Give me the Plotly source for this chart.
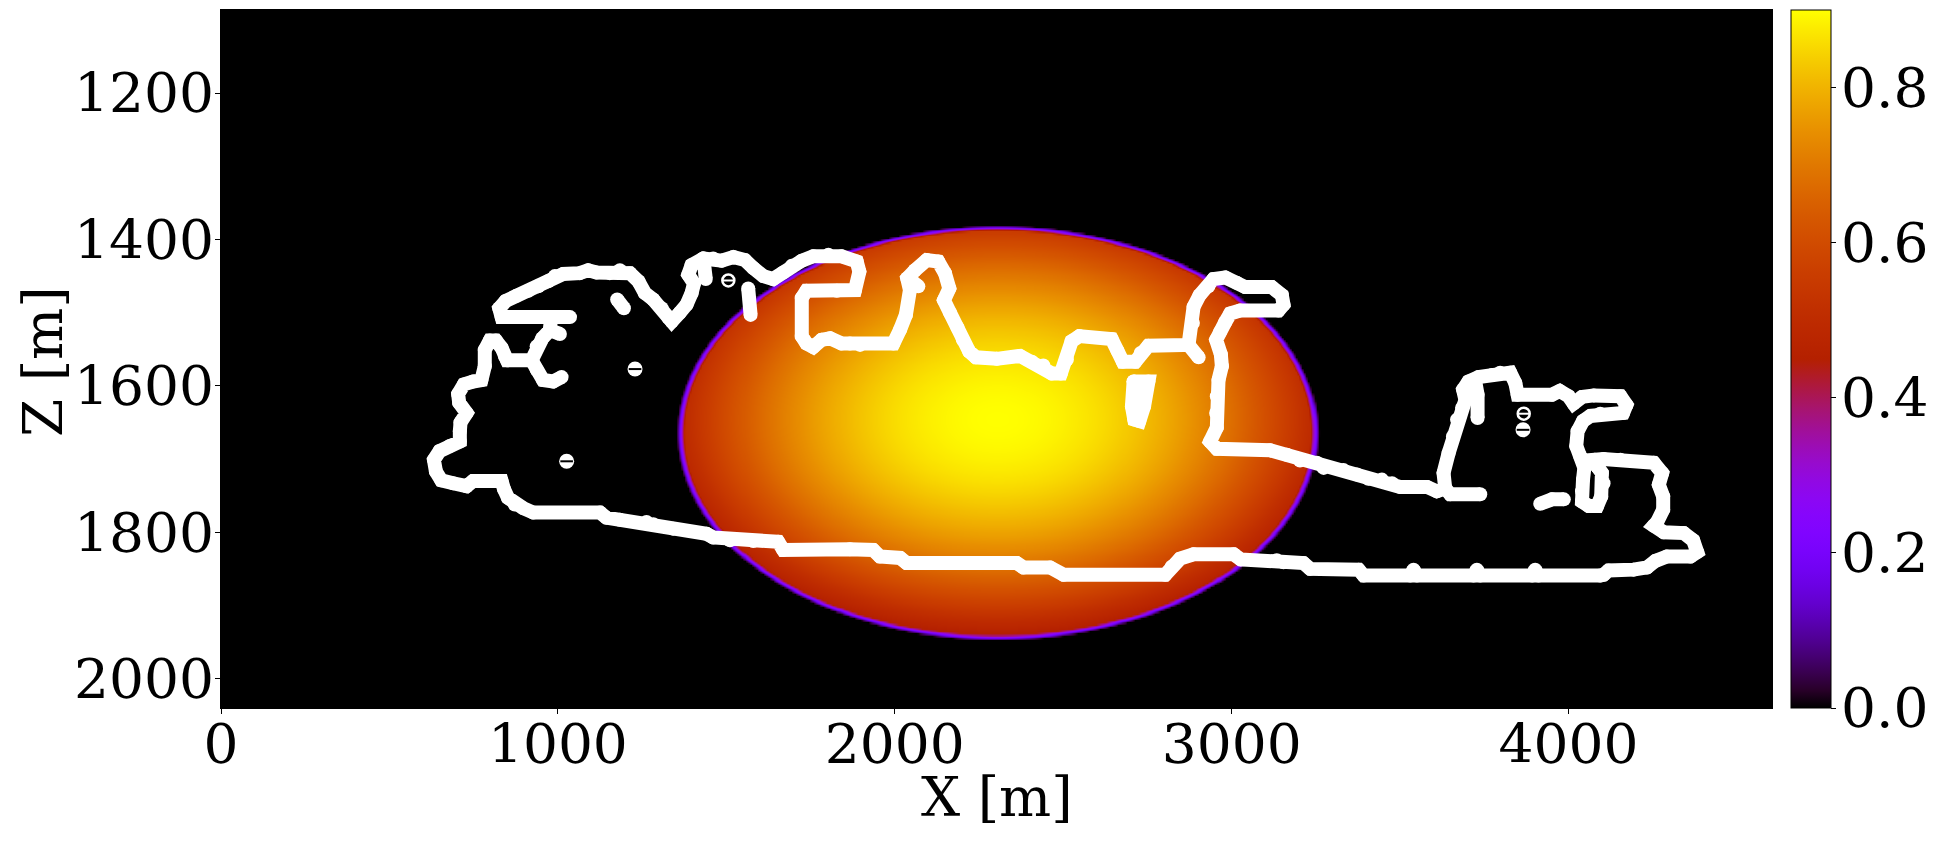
import numpy as np
import plotly.graph_objects as go

# ---------------- axis extents / ticks ----------------
x_range = [0, 4604]
z_range = [2040, 1086.5]          # reversed (depth increases downward)
x_ticks = [0, 1000, 2000, 3000, 4000]
z_ticks = [1200, 1400, 1600, 1800, 2000]
cbar_ticks = [0.0, 0.2, 0.4, 0.6, 0.8]
cbar_labels = ['0.0', '0.2', '0.4', '0.6', '0.8']
cbar_max = 0.9

# ---------------- elliptical anomaly ----------------
blob_center_x = 2305
blob_center_z = 1664
blob_radius_x = 930
blob_radius_z = 276
peak_center_x = 2305
peak_center_z = 1645
peak_value = 0.9
edge_value = 0.5
rim_width = 0.025

# ---------------- white contour (x [m], z [m]) ----------------
outline_x = [1036, 917, 833, 826, 845, 877, 912, 942, 971, 991, 1016, 1065, 1090, 1115, 1154, 1184, 1214, 1239, 1258, 1283, 1308, 1328, 1338,
             1362, 1382, 1397, 1404, 1387, 1397, 1432, 1461, 1486, 1521, 1555, 1580, 1610, 1639, 1669, 1694, 1724, 1758, 1803, 1842, 1887, 1895, 1882, 1828, 1738, 1724, 1724, 1738, 1758, 1783, 1808, 1842, 1867,
             1897, 1996, 2016, 2033, 2045, 2037, 2060, 2095, 2129, 2149, 2162, 2146, 2164, 2186, 2202, 2221, 2241, 2303, 2372, 2407, 2441, 2466, 2493, 2511, 2525, 2548, 2644, 2661, 2677, 2714, 2730, 2753, 2872, 2885, 2887, 2905, 2931, 2946, 2981, 3015, 3040, 3119, 3149, 3154, 3139, 3025, 2996, 2981, 2966, 2954, 2968, 2971, 2961, 2956, 2954, 2956, 2936, 2956, 3114,
             3164, 3203, 3253, 3273, 3332, 3372, 3406, 3446, 3476, 3500, 3580, 3609, 3634,
             3629, 3644, 3657, 3669, 3684, 3694, 3687, 3703, 3733, 3773, 3797, 3827, 3842, 3849, 3951, 3974, 4000, 4015, 4040, 4075, 4154, 4172, 4162, 4094, 4065, 4043, 4027, 4023, 4035, 4047, 4043, 4040, 4040, 4060, 4085, 4097, 4104, 4099, 4085, 4078, 4104, 4154, 4253, 4278, 4268, 4281, 4281, 4263, 4253, 4283, 4342, 4370, 4382, 4362, 4292, 4258, 4233, 4193, 4119, 4104,
             4094, 3911, 3901, 3892, 3738, 3728, 3718, 3550, 3540, 3530, 3392, 3377, 3233, 3213, 3154, 3134, 3027, 3006, 2887, 2847, 2822, 2803, 2501, 2461, 2382, 2362, 2035, 2016, 1956, 1936, 1867, 1669, 1654, 1580, 1511, 1461, 1441, 1342, 1283, 1263, 1184, 1144, 1125, 927, 897, 872, 852, 840, 833, 748, 729, 689, 654, 638, 632, 649, 679, 709, 709, 711, 729, 707, 704, 721, 748, 773, 783, 783, 798, 816, 833, 843, 849, 922, 937, 954, 976, 978, 980]
outline_z = [1506, 1506, 1506, 1494, 1484, 1477, 1470, 1464, 1457, 1450, 1447, 1446, 1442, 1445, 1446, 1442, 1446, 1457, 1473, 1482, 1494, 1507, 1512,
             1500, 1489, 1473, 1460, 1448, 1435, 1426, 1426, 1429, 1424, 1428, 1439, 1450, 1454, 1445, 1436, 1429, 1423, 1421, 1423, 1430, 1444, 1469, 1470, 1470, 1480, 1532, 1542, 1547, 1537, 1535, 1542, 1542,
             1544, 1542, 1523, 1503, 1469, 1453, 1442, 1428, 1430, 1446, 1467, 1483, 1500, 1520, 1537, 1553, 1561, 1563, 1559, 1567, 1572, 1583, 1583, 1564, 1539, 1532, 1536, 1552, 1567, 1567, 1555, 1545, 1544, 1514, 1492, 1476, 1464, 1454, 1452, 1459, 1465, 1465, 1476, 1489, 1497, 1497, 1501, 1513, 1526, 1537, 1557, 1573, 1592, 1614, 1637, 1657, 1676, 1686, 1688,
             1694, 1702, 1705, 1712, 1715, 1721, 1727, 1728, 1733, 1738, 1738, 1744, 1740,
             1719, 1692, 1669, 1646, 1630, 1619, 1605, 1594, 1588, 1585, 1582, 1582, 1596, 1612, 1612, 1607, 1614, 1624, 1615, 1613, 1614, 1626, 1637, 1638, 1641, 1648, 1662, 1682, 1696, 1712, 1728, 1744, 1758, 1764, 1764, 1751, 1733, 1719, 1710, 1701, 1700, 1701, 1705, 1719, 1735, 1751, 1769, 1786, 1791, 1800, 1801, 1811, 1827, 1833, 1833, 1839, 1848, 1851, 1852, 1858,
             1859, 1859, 1851, 1859, 1859, 1851, 1859, 1859, 1851, 1859, 1859, 1851, 1850, 1842, 1841, 1838, 1837, 1830, 1830, 1836, 1847, 1858, 1858, 1848, 1848, 1842, 1842, 1835, 1833, 1824, 1823, 1824, 1813, 1812, 1811, 1807, 1802, 1795, 1789, 1786, 1783, 1780, 1773, 1773, 1767, 1762, 1753, 1741, 1730, 1730, 1737, 1733, 1729, 1717, 1701, 1689, 1682, 1676, 1662, 1650, 1637, 1623, 1611, 1598, 1594, 1592, 1573, 1551, 1538, 1538, 1548, 1560, 1565, 1565, 1546, 1535, 1524, 1512, 1506]

# short open pieces of the contour
stub_x = [[922, 937, 956, 986, 1011], [976, 1006], [1176, 1196], [1565, 1572], [2872, 2902], [2043, 2070],
          [2709, 2753, 2740, 2726, 2711, 2704, 2709], [3634, 3649, 3738], [3723, 3730, 3730], [3916, 3951, 3986], [1432, 1439]]
stub_z = [[1565, 1578, 1592, 1594, 1588], [1524, 1529], [1482, 1494], [1467, 1503], [1544, 1561], [1454, 1464],
          [1594, 1594, 1628, 1648, 1646, 1628, 1594], [1740, 1748, 1748], [1594, 1612, 1644], [1761, 1755, 1755], [1426, 1454]]

# tiny closed loops
ring_x, ring_z = [1506, 3867], [1456, 1638]          # open rings
dot_x, dot_z = [1229, 1026, 3865], [1577, 1703, 1660]  # filled ovals with a dark slit

# ---------------- build field ----------------
xs = np.arange(0, 4605, 6.0)
zs = np.arange(1086, 2041, 3.0)
XX, ZZ = np.meshgrid(xs, zs)
r_geo = np.sqrt(((XX - blob_center_x) / blob_radius_x) ** 2 + ((ZZ - blob_center_z) / blob_radius_z) ** 2)
r_pk = np.sqrt(((XX - peak_center_x) / blob_radius_x) ** 2 + ((ZZ - peak_center_z) / blob_radius_z) ** 2)
inner = np.clip(peak_value - (peak_value - edge_value) * r_pk ** 2, 0.42, None)
taper = np.clip((1 + rim_width - r_geo) / rim_width, 0, 1)
field = np.round(inner * taper, 4)

# gnuplot colormap
t = np.linspace(0, 1, 41)
cols = np.stack([np.sqrt(t), t ** 3, np.clip(np.sin(2 * np.pi * t), 0, 1)], axis=1)
colorscale = [[float(tt), 'rgb(%d,%d,%d)' % tuple((c * 255).round().astype(int))] for tt, c in zip(t, cols)]

FONT = 'DejaVu Serif'
FS = 55

fig = go.Figure()
fig.add_trace(go.Heatmap(
    x=xs, y=zs, z=field, zmin=0, zmax=cbar_max, colorscale=colorscale, zsmooth='best',
    hoverinfo='skip',
    colorbar=dict(thickness=40, len=1, lenmode='fraction', y=0.5, yanchor='middle',
                  x=1.0125, xanchor='left', xpad=0, ypad=0,
                  outlinewidth=1, outlinecolor='black',
                  tickvals=cbar_ticks, showticklabels=False,
                  ticks='outside', ticklen=5, tickwidth=1, tickcolor='black')))

# main contour + stubs
cx, cz = list(outline_x), list(outline_z)
for sx, sz in zip(stub_x, stub_z):
    cx += [None] + sx
    cz += [None] + sz
fig.add_trace(go.Scatter(x=cx, y=cz, mode='lines+markers',
                         line=dict(color='white', width=14),
                         marker=dict(color='white', size=14),
                         hoverinfo='skip', showlegend=False))
fig.add_trace(go.Scatter(x=ring_x, y=ring_z, mode='markers',
                         marker=dict(symbol='circle-open', color='white', size=12, line=dict(width=2.5, color='white')),
                         hoverinfo='skip', showlegend=False))
fig.add_trace(go.Scatter(x=ring_x, y=ring_z, mode='markers',
                         marker=dict(symbol='line-ew', color='white', size=8, line=dict(width=2, color='white')),
                         hoverinfo='skip', showlegend=False))
fig.add_trace(go.Scatter(x=dot_x, y=dot_z, mode='markers',
                         marker=dict(symbol='circle', color='white', size=15, line=dict(width=0)),
                         hoverinfo='skip', showlegend=False))
fig.add_trace(go.Scatter(x=dot_x, y=dot_z, mode='markers',
                         marker=dict(symbol='line-ew', color='black', size=9, line=dict(width=2, color='black')),
                         hoverinfo='skip', showlegend=False))

# colorbar tick labels and axis titles as positioned text
annotations = []
for v, lab in zip(cbar_ticks, cbar_labels):
    annotations.append(dict(text=lab, x=1.0435, y=v / cbar_max, xref='paper', yref='paper',
                            xanchor='left', yanchor='middle', showarrow=False,
                            font=dict(family=FONT, size=FS, color='black')))
annotations.append(dict(text='X [m]', x=0.5, y=-0.1275, xref='paper', yref='paper',
                        xanchor='center', yanchor='middle', showarrow=False,
                        font=dict(family=FONT, size=FS, color='black')))
annotations.append(dict(text='Z [m]', x=-0.1148, y=0.497, xref='paper', yref='paper',
                        xanchor='center', yanchor='middle', showarrow=False, textangle=-90,
                        font=dict(family=FONT, size=FS, color='black')))

axis_common = dict(ticks='outside', ticklen=5, tickwidth=1, tickcolor='black',
                   showline=True, linecolor='black', linewidth=1, mirror=True,
                   showgrid=False, zeroline=False, automargin=False,
                   tickfont=dict(family=FONT, size=FS, color='black'))
# page body adds an 8px offset; margins are set so the plot area lands at
# x 221..1772, y 10..708 of the screenshot
fig.update_layout(
    width=1939, height=842,
    margin=dict(l=213, r=175, t=2, b=142, autoexpand=False),
    paper_bgcolor='white', plot_bgcolor='black',
    font=dict(family=FONT, size=FS, color='black'),
    showlegend=False,
    annotations=annotations,
    xaxis=dict(range=x_range, tickvals=x_ticks, ticklabelstandoff=-17, **axis_common),
    yaxis=dict(range=z_range, tickvals=z_ticks, ticklabelstandoff=-10, **axis_common),
)
fig.write_html('out.html')
